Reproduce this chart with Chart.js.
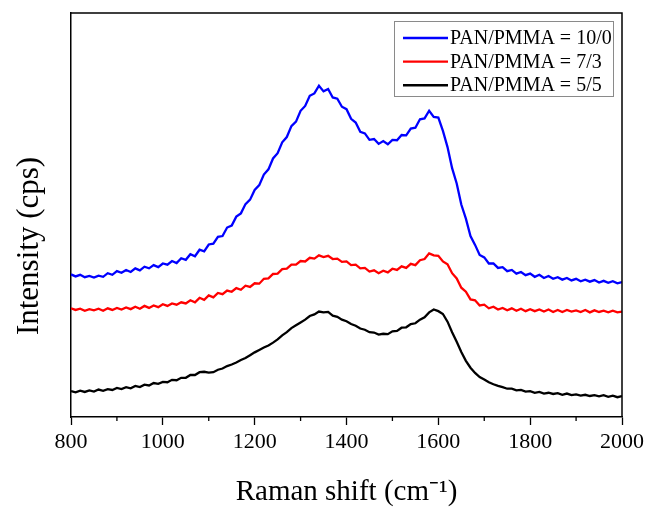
<!DOCTYPE html>
<html>
<head>
<meta charset="utf-8">
<script src="https://cdn.jsdelivr.net/npm/chart.js@4.4.1/dist/chart.umd.min.js"></script>
<style>
  body { margin: 0; background: #fff; }
  #box { width: 648px; height: 507px; }
</style>
</head>
<body>
<div id="box"><canvas id="raman-chart"></canvas></div>
<script>
// Raman shift (cm-1), one point every 10
const ramanShift = [
  800, 810, 820, 830, 840, 850, 860, 870, 880, 890,
  900, 910, 920, 930, 940, 950, 960, 970, 980, 990,
  1000, 1010, 1020, 1030, 1040, 1050, 1060, 1070, 1080, 1090,
  1100, 1110, 1120, 1130, 1140, 1150, 1160, 1170, 1180, 1190,
  1200, 1210, 1220, 1230, 1240, 1250, 1260, 1270, 1280, 1290,
  1300, 1310, 1320, 1330, 1340, 1350, 1360, 1370, 1380, 1390,
  1400, 1410, 1420, 1430, 1440, 1450, 1460, 1470, 1480, 1490,
  1500, 1510, 1520, 1530, 1540, 1550, 1560, 1570, 1580, 1590,
  1600, 1610, 1620, 1630, 1640, 1650, 1660, 1670, 1680, 1690,
  1700, 1710, 1720, 1730, 1740, 1750, 1760, 1770, 1780, 1790,
  1800, 1810, 1820, 1830, 1840, 1850, 1860, 1870, 1880, 1890,
  1900, 1910, 1920, 1930, 1940, 1950, 1960, 1970, 1980, 1990,
  2000
];

// intensities (arbitrary units, curves offset as in the figure)
const pan10_0 = [
  35.3, 34.8, 35.2, 34.6, 34.9, 34.5, 35.0, 34.7, 35.6, 35.2,
  36.1, 35.7, 36.4, 35.9, 36.8, 36.3, 37.2, 36.8, 37.6, 37.1,
  38.0, 37.7, 38.6, 38.1, 39.3, 38.9, 40.3, 39.8, 41.4, 41.0,
  42.7, 42.9, 44.6, 44.8, 46.9, 47.4, 49.6, 50.4, 52.7, 53.8,
  56.2, 57.4, 60.0, 61.3, 64.0, 65.3, 68.0, 69.3, 72.0, 73.1,
  75.8, 77.0, 79.5, 80.1, 82.0, 80.6, 81.2, 79.1, 78.8, 76.8,
  76.2, 73.8, 72.9, 70.6, 70.2, 68.6, 68.8, 67.6, 68.3, 67.5,
  68.6, 68.5, 69.8, 69.7, 71.4, 71.6, 73.7, 73.9, 75.8, 74.3,
  74.1, 70.8, 66.8, 61.6, 57.8, 52.6, 49.1, 44.8, 42.6, 40.1,
  39.5, 38.0, 38.0, 36.9, 37.1, 36.1, 36.4, 35.5, 35.9, 35.1,
  35.5, 34.7, 35.2, 34.4, 34.9, 34.2, 34.6, 34.0, 34.4, 33.8,
  34.2, 33.6, 34.0, 33.5, 33.9, 33.3, 33.7, 33.2, 33.6, 33.1,
  33.4
];
const pan7_3 = [
  26.9, 26.5, 26.8, 26.3, 26.7, 26.4, 26.8, 26.3, 26.9, 26.5,
  27.0, 26.6, 27.1, 26.7, 27.3, 26.8, 27.5, 27.0, 27.6, 27.2,
  27.9, 27.5, 28.1, 27.8, 28.4, 28.1, 28.9, 28.4, 29.5, 29.0,
  30.1, 29.6, 30.7, 30.4, 31.3, 31.0, 31.9, 31.5, 32.5, 32.2,
  33.1, 33.0, 34.2, 34.3, 35.4, 35.5, 36.6, 36.7, 37.7, 37.7,
  38.6, 38.5, 39.4, 39.2, 40.0, 39.6, 39.9, 39.1, 39.2, 38.4,
  38.5, 37.6, 37.7, 36.8, 36.9, 36.0, 36.3, 35.6, 36.2, 35.8,
  36.7, 36.4, 37.3, 36.9, 37.9, 37.6, 38.8, 39.1, 40.5, 40.0,
  39.9, 38.5, 37.8, 35.6, 34.3, 32.0, 31.0, 29.1, 28.9, 27.6,
  27.8, 26.9, 27.3, 26.6, 27.0, 26.4, 26.9, 26.3, 26.8, 26.2,
  26.7, 26.2, 26.6, 26.1, 26.6, 26.0, 26.5, 26.0, 26.5, 26.1,
  26.4, 26.0, 26.5, 25.9, 26.4, 26.0, 26.3, 25.9, 26.3, 25.9,
  26.1
];
const pan5_5 = [
  6.4, 6.1, 6.5, 6.2, 6.6, 6.3, 6.8, 6.5, 6.9, 6.7,
  7.2, 6.9, 7.4, 7.1, 7.7, 7.4, 8.0, 7.8, 8.4, 8.2,
  8.7, 8.6, 9.2, 9.1, 9.7, 9.7, 10.4, 10.4, 11.1, 11.2,
  11.0, 11.1, 11.7, 12.0, 12.6, 13.0, 13.5, 14.1, 14.6, 15.3,
  16.0, 16.6, 17.2, 17.7, 18.4, 19.2, 20.2, 21.0, 22.0, 22.7,
  23.4, 24.1, 25.0, 25.4, 26.1, 25.9, 26.0, 25.1, 24.8, 24.1,
  23.7, 23.0, 22.6, 21.9, 21.6, 21.0, 20.9, 20.4, 20.6, 20.5,
  21.2, 21.3, 22.1, 22.2, 23.0, 23.2, 24.1, 24.7, 25.9, 26.6,
  26.2, 25.5, 23.6, 21.0, 18.6, 16.1, 13.9, 12.2, 10.9, 9.9,
  9.3, 8.6, 8.1, 7.7, 7.4, 7.0, 7.0, 6.6, 6.7, 6.3,
  6.4, 6.0, 6.2, 5.8, 6.0, 5.7, 5.9, 5.5, 5.8, 5.4,
  5.6, 5.3, 5.5, 5.2, 5.4, 5.1, 5.4, 5.0, 5.3, 4.9,
  5.2
];

const seriesLabels = ["PAN/PMMA = 10/0", "PAN/PMMA = 7/3", "PAN/PMMA = 5/5"];
const seriesColors = ["#0000ff", "#ff0000", "#000000"];
const minorTicks = [900, 1100, 1300, 1500, 1700, 1900];

const serif = "'Liberation Serif', 'Times New Roman', serif";

function points(values) {
    return ramanShift.map((x, i) => ({ x: x, y: values[i] }));
}

// frame on top/right, minor ticks, and the boxed legend inside the plot
const framePlugin = {
    id: 'frame',
    afterDraw(chart) {
        const ctx = chart.ctx;
        const a = chart.chartArea;
        const xs = chart.scales.x;
        ctx.save();
        ctx.strokeStyle = '#000';
        ctx.lineWidth = 1.5;
        ctx.beginPath();
        ctx.moveTo(a.left, a.top);
        ctx.lineTo(a.right, a.top);
        ctx.lineTo(a.right, a.bottom);
        ctx.stroke();

        ctx.lineWidth = 1.3;
        minorTicks.forEach(v => {
            const px = xs.getPixelForValue(v);
            ctx.beginPath();
            ctx.moveTo(px, a.bottom);
            ctx.lineTo(px, a.bottom + 4);
            ctx.stroke();
        });

        // legend box
        const x0 = a.right - 228, y0 = a.top + 8;
        ctx.strokeStyle = '#8a8a8a';
        ctx.lineWidth = 1;
        ctx.strokeRect(x0 + 0.5, y0 + 0.5, 219, 75);
        ctx.font = '20px ' + serif;
        ctx.textBaseline = 'middle';
        ctx.fillStyle = '#000';
        chart.data.datasets.forEach((ds, i) => {
            const y = y0 + 17 + i * 23.6;
            ctx.strokeStyle = ds.borderColor;
            ctx.lineWidth = 2.4;
            ctx.beginPath();
            ctx.moveTo(x0 + 9, y);
            ctx.lineTo(x0 + 54, y);
            ctx.stroke();
            ctx.fillText(ds.label, x0 + 56, y + 1);
        });
        ctx.restore();
    }
};

new Chart(document.getElementById("raman-chart"), {
    type: 'line',
    data: {
        datasets: [
            { label: seriesLabels[0], data: points(pan10_0), borderColor: seriesColors[0] },
            { label: seriesLabels[1], data: points(pan7_3), borderColor: seriesColors[1] },
            { label: seriesLabels[2], data: points(pan5_5), borderColor: seriesColors[2] }
        ]
    },
    options: {
        responsive: true,
        maintainAspectRatio: false,
        animation: false,
        datasets: {
            line: { borderWidth: 2.3, pointRadius: 0, tension: 0, fill: false }
        },
        layout: { padding: { top: 13, right: 26, left: 0, bottom: 0 } },
        plugins: {
            legend: { display: false },
            tooltip: { enabled: false }
        },
        scales: {
            x: {
                type: 'linear',
                min: 800,
                max: 2000,
                ticks: {
                    stepSize: 200,
                    color: '#000',
                    padding: 4,
                    maxRotation: 0,
                    font: { family: serif, size: 22 },
                    callback: (value) => String(value)
                },
                grid: {
                    display: true,
                    drawOnChartArea: false,
                    tickLength: 8,
                    tickColor: '#000',
                    tickWidth: 1.3
                },
                border: { color: '#000', width: 1.5 },
                title: {
                    display: true,
                    text: 'Raman shift (cm\u207B\u00B9)',
                    color: '#000',
                    font: { family: serif, size: 29, lineHeight: 1 },
                    padding: { top: 0, bottom: 0 }
                },
                afterFit(scale) { scale.height = 90; }
            },
            y: {
                min: 0,
                max: 100,
                ticks: { display: false },
                grid: { display: false },
                border: { color: '#000', width: 1.5 },
                title: {
                    display: true,
                    text: 'Intensity (cps)\u2002\u2002\u2002\u2002',
                    color: '#000',
                    font: { family: serif, size: 31, lineHeight: 1 },
                    padding: { top: 14, bottom: 0 }
                },
                afterFit(scale) { scale.width = 71; }
            }
        }
    },
    plugins: [framePlugin]
});
</script>
</body>
</html>
